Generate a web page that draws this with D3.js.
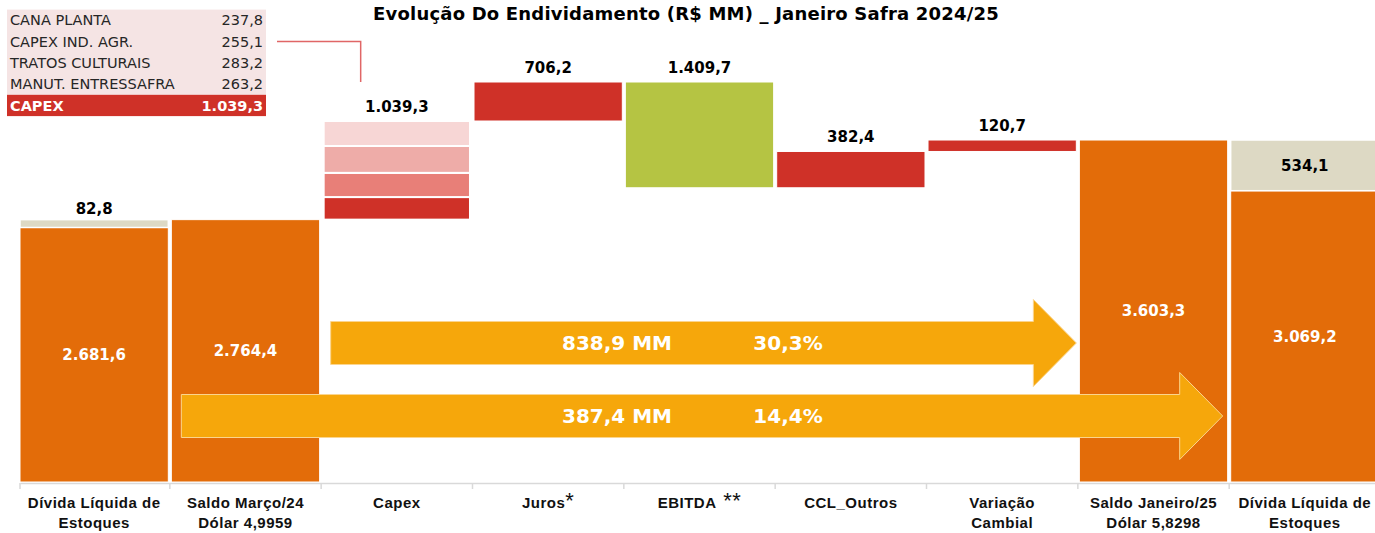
<!DOCTYPE html>
<html>
<head>
<meta charset="utf-8">
<script src="https://cdn.jsdelivr.net/npm/d3@7"></script>
<style>
  body { margin: 0; background: #fff; }
  svg { display: block; font-family: "DejaVu Sans", sans-serif; }
</style>
</head>
<body>
<div id="chart"></div>
<script>
// categories (two lines each where the original wraps)
const categories = [
    ["Dívida Líquida de", "Estoques"],
    ["Saldo Março/24", "Dólar 4,9959"],
    ["Capex"],
    ["Juros*"],
    ["EBITDA **"],
    ["CCL_Outros"],
    ["Variação", "Cambial"],
    ["Saldo Janeiro/25", "Dólar 5,8298"],
    ["Dívida Líquida de", "Estoques"]
];

const saldoMarco = 2764.4;
const saldoJaneiro = 3603.3;
const dividaInicio = 2681.6;
const dividaFim = 3069.2;
const estoques = [82.8, 534.1];

// movements between the two balances
const stepNames = ["Capex", "Juros*", "EBITDA **", "CCL_Outros", "Variação"];
const stepValues = [1039.3, 706.2, -1409.7, 382.4, 120.7];
const stepColors = ["#cf3128", "#cf3128", "#b5c443", "#cf3128", "#cf3128"];

// capex breakdown
const capexItems = ["CANA PLANTA", "CAPEX IND. AGR.", "TRATOS CULTURAIS", "MANUT. ENTRESSAFRA"];
const capexValues = [237.8, 255.1, 283.2, 263.2];
const capexColors = ["#cf3128", "#e87f78", "#eeaca8", "#f7d6d5"];

// arrows
const arrowValues = [838.9, 387.4];
const arrowPct = [30.3, 14.4];

const width = 1375;
const height = 533;

const locale = d3.formatLocale({ decimal: ",", thousands: ".", grouping: [3], currency: ["R$", ""] });
const fmt = locale.format(",.1f");

const svg = d3.select("#chart")
    .append("svg")
    .attr("width", width)
    .attr("height", height);

const x = d3.scaleBand()
    .domain(d3.range(categories.length))
    .range([20, 1379])
    .paddingInner(0.02)
    .paddingOuter(0);

// the top of the scale is squeezed, as in the original slide
const y = d3.scaleLinear()
    .domain([0, 3803.7, 4509.9])
    .range([482, 121, 82]);

// running totals of the waterfall
let run = saldoMarco;
const steps = stepValues.map((v, i) => {
    const s = { i: i + 2, name: stepNames[i], from: run, to: run + v, value: v, color: stepColors[i] };
    run += v;
    return s;
});

// title
svg.append("text")
    .attr("x", 686)
    .attr("y", 20)
    .attr("text-anchor", "middle")
    .style("font-size", "18px")
    .style("font-weight", "bold")
    .style("letter-spacing", "0.2px")
    .text("Evolução Do Endividamento (R$ MM) _ Janeiro Safra 2024/25");

// totals (orange) with estoques (beige) stacked
const totals = [
    { i: 0, value: dividaInicio, extra: estoques[0] },
    { i: 1, value: saldoMarco, extra: 0 },
    { i: 7, value: saldoJaneiro, extra: 0 },
    { i: 8, value: dividaFim, extra: estoques[1] }
];

svg.selectAll(".total")
    .data(totals)
    .join("rect")
    .attr("class", "total")
    .attr("x", d => x(d.i))
    .attr("width", x.bandwidth())
    .attr("y", d => y(d.value))
    .attr("height", d => y(0) - y(d.value))
    .attr("fill", "#e36c09")
    .attr("stroke", "#fff")
    .attr("stroke-width", 1);

svg.selectAll(".estoque")
    .data(totals.filter(d => d.extra > 0))
    .join("rect")
    .attr("class", "estoque")
    .attr("x", d => x(d.i))
    .attr("width", x.bandwidth())
    .attr("y", d => y(d.value + d.extra))
    .attr("height", d => y(d.value) - y(d.value + d.extra))
    .attr("fill", "#ddd9c4")
    .attr("stroke", "#fff")
    .attr("stroke-width", 1.5);

svg.selectAll(".total-label")
    .data(totals)
    .join("text")
    .attr("class", "total-label")
    .attr("x", d => x(d.i) + x.bandwidth() / 2)
    .attr("y", d => (y(d.value) + y(0)) / 2)
    .attr("dy", "0.35em")
    .attr("text-anchor", "middle")
    .attr("fill", "#fff")
    .style("font-size", "15px")
    .style("font-weight", "bold")
    .text(d => fmt(d.value));

// estoques labels: above the thin one, inside the big one
svg.append("text")
    .attr("x", x(0) + x.bandwidth() / 2)
    .attr("y", y(dividaInicio + estoques[0]) - 6)
    .attr("text-anchor", "middle")
    .style("font-size", "15px")
    .style("font-weight", "bold")
    .text(fmt(estoques[0]));

svg.append("text")
    .attr("x", x(8) + x.bandwidth() / 2)
    .attr("y", (y(dividaFim) + y(dividaFim + estoques[1])) / 2)
    .attr("dy", "0.35em")
    .attr("text-anchor", "middle")
    .style("font-size", "15px")
    .style("font-weight", "bold")
    .text(fmt(estoques[1]));

// capex stacked pieces
let acc = saldoMarco;
const capexStack = capexValues.map((v, k) => {
    const p = { from: acc, to: acc + v, color: capexColors[k] };
    acc += v;
    return p;
});

svg.selectAll(".capex")
    .data(capexStack)
    .join("rect")
    .attr("class", "capex")
    .attr("x", x(2) + 1)
    .attr("width", x.bandwidth() - 2)
    .attr("y", d => y(d.to))
    .attr("height", d => y(d.from) - y(d.to))
    .attr("fill", d => d.color)
    .attr("stroke", "#fff")
    .attr("stroke-width", 2);

// other steps
svg.selectAll(".step")
    .data(steps.slice(1))
    .join("rect")
    .attr("class", "step")
    .attr("x", d => x(d.i))
    .attr("width", x.bandwidth())
    .attr("y", d => y(Math.max(d.from, d.to)))
    .attr("height", d => Math.abs(y(d.from) - y(d.to)))
    .attr("fill", d => d.color)
    .attr("stroke", "#fff")
    .attr("stroke-width", 1);

svg.selectAll(".step-label")
    .data(steps)
    .join("text")
    .attr("class", "step-label")
    .attr("x", d => x(d.i) + x.bandwidth() / 2)
    .attr("y", d => y(Math.max(d.from, d.to)) - 9)
    .attr("text-anchor", "middle")
    .style("font-size", "15px")
    .style("font-weight", "bold")
    .text(d => fmt(Math.abs(d.value)));

// x axis
const axisY = 483;
const axis = svg.append("g")
    .attr("transform", `translate(0,${axisY})`)
    .call(d3.axisBottom(x).tickSize(0).tickPadding(0).tickFormat(""));

axis.select(".domain").attr("stroke", "#d9d9d9").attr("stroke-width", 1.5);

axis.selectAll(".sep")
    .data(d3.range(categories.length))
    .join("line")
    .attr("class", "sep")
    .attr("x1", i => x(i) - (i ? x.step() * x.paddingInner() / 2 : 0))
    .attr("x2", i => x(i) - (i ? x.step() * x.paddingInner() / 2 : 0))
    .attr("y1", 0)
    .attr("y2", 6)
    .attr("stroke", "#d9d9d9")
    .attr("stroke-width", 1.5);

const catLabels = axis.selectAll(".cat")
    .data(categories)
    .join("text")
    .attr("class", "cat")
    .attr("x", (d, i) => x(i) + x.bandwidth() / 2)
    .attr("y", 25)
    .attr("text-anchor", "middle")
    .attr("fill", "#111")
    .style("font-size", "15px")
    .style("font-weight", "bold")
    .style("letter-spacing", "0.5px");

catLabels.each(function (lines) {
    const t = d3.select(this);
    lines.forEach((line, k) => {
        const m = line.match(/^(.*?)(\s?\*+)$/);
        t.append("tspan")
            .attr("x", t.attr("x"))
            .attr("dy", k ? 20 : 0)
            .text(m ? m[1] : line);
        if (m) {
            t.append("tspan")
                .style("font-size", "22px")
                .style("font-weight", "normal")
                .text(m[2]);
        }
    });
});

// arrows
function arrowPath(x0, x1, yc, body, head, headLen) {
    const p = d3.path();
    p.moveTo(x0, yc - body / 2);
    p.lineTo(x1 - headLen, yc - body / 2);
    p.lineTo(x1 - headLen, yc - head / 2);
    p.lineTo(x1, yc);
    p.lineTo(x1 - headLen, yc + head / 2);
    p.lineTo(x1 - headLen, yc + body / 2);
    p.lineTo(x0, yc + body / 2);
    p.closePath();
    return p.toString();
}

const arrows = [
    { x0: x(2) + 8, x1: x(7) - 3, yc: 343, value: arrowValues[0], pct: arrowPct[0] },
    { x0: x(1) + 10, x1: x(8) - 8, yc: 416, value: arrowValues[1], pct: arrowPct[1] }
];

svg.selectAll(".arrow")
    .data(arrows)
    .join("path")
    .attr("class", "arrow")
    .attr("d", d => arrowPath(d.x0, d.x1, d.yc, 43, 87, 43))
    .attr("fill", "#f6a70b")
    .attr("stroke", "#fbd58e")
    .attr("stroke-width", 1);

svg.selectAll(".arrow-mm")
    .data(arrows)
    .join("text")
    .attr("class", "arrow-mm")
    .attr("x", 617)
    .attr("y", d => d.yc)
    .attr("dy", "0.36em")
    .attr("text-anchor", "middle")
    .attr("fill", "#fff")
    .style("font-size", "20px")
    .style("font-weight", "bold")
    .text(d => fmt(d.value) + " MM");

svg.selectAll(".arrow-pct")
    .data(arrows)
    .join("text")
    .attr("class", "arrow-pct")
    .attr("x", 788)
    .attr("y", d => d.yc)
    .attr("dy", "0.36em")
    .attr("text-anchor", "middle")
    .attr("fill", "#fff")
    .style("font-size", "20px")
    .style("font-weight", "bold")
    .text(d => fmt(d.pct) + "%");

// capex table in the corner
const rowH = 21.3;
const tableTop = 9.6;
const table = svg.append("g");

table.append("rect")
    .attr("x", 7).attr("y", tableTop)
    .attr("width", 259).attr("height", rowH * 4)
    .attr("fill", "#f5e4e4");

table.append("rect")
    .attr("x", 7).attr("y", tableTop + rowH * 4)
    .attr("width", 259).attr("height", rowH)
    .attr("fill", "#cf3128");

const rows = capexItems.map((n, k) => ({ name: n, value: capexValues[k], total: false }))
    .concat([{ name: "CAPEX", value: d3.sum(capexValues), total: true }]);

table.selectAll(".row-name")
    .data(rows)
    .join("text")
    .attr("class", "row-name")
    .attr("x", 10)
    .attr("y", (d, k) => tableTop + rowH * k + rowH / 2)
    .attr("dy", "0.35em")
    .attr("fill", d => d.total ? "#fff" : "#262626")
    .style("font-size", "14.5px")
    .style("font-weight", d => d.total ? "bold" : "normal")
    .text(d => d.name);

table.selectAll(".row-val")
    .data(rows)
    .join("text")
    .attr("class", "row-val")
    .attr("x", 263)
    .attr("y", (d, k) => tableTop + rowH * k + rowH / 2)
    .attr("dy", "0.35em")
    .attr("text-anchor", "end")
    .attr("fill", d => d.total ? "#fff" : "#262626")
    .style("font-size", "14.5px")
    .style("font-weight", d => d.total ? "bold" : "normal")
    .text(d => fmt(d.value));

// connector from table to capex bar
svg.append("path")
    .attr("d", `M277,${tableTop + rowH * 1.5}H${x(2) + 38}V82`)
    .attr("fill", "none")
    .attr("stroke", "#e06666")
    .attr("stroke-width", 1.5);
</script>
</body>
</html>
